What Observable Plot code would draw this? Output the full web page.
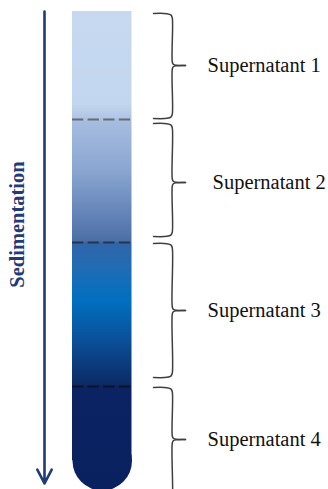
<!DOCTYPE html>
<html>
<head>
<meta charset="utf-8">
<script src="https://cdn.jsdelivr.net/npm/d3@7"></script>
<script src="https://cdn.jsdelivr.net/npm/@observablehq/plot@0.6"></script>
<style>
  html, body { margin: 0; padding: 0; background: #fff; overflow: hidden; }
  #chart svg { display: block; overflow: visible; }
</style>
</head>
<body>
<div id="chart"></div>
<script>
// ---- Data (diagram coordinates: depth 0..489 top to bottom, horizontal 0..328) ----
const layers = ["Supernatant 1", "Supernatant 2", "Supernatant 3", "Supernatant 4"];
const layerTop = [13, 123, 243, 387];
const layerBottom = [118, 236, 377, 505];
const layerMid = [65, 182, 310, 439];
const labelX = [207, 212, 207, 207];
const boundaries = [119, 242, 386];
const boundaryColors = ["#666b73", "#243650", "#0c1424"];
const tubeTop = 11;
const tubeBottom = 490;
const tubeLeft = 72;
const tubeRight = 131.5;
const gradDepth = [11, 104, 118, 121, 170, 215, 241, 243, 265, 300, 340, 384, 387, 490];
const gradColor = ["#c6d9f1", "#c3d6ef", "#b0c5e5", "#a6bde0", "#8aa6d0", "#6383b8", "#4b6fa5",
                   "#2f66a9", "#236bb3", "#0070c0", "#0a5099", "#0c2b66", "#0a2362", "#0a2160"];
const arrowX = 44;
const arrowTop = 11;
const arrowBottom = 483;
const axisTitle = "Sedimentation";

// ---- Build brace geometry from the layer spans ----
const braceLeft = 153, braceSpine = 171.8, braceTip = 185;
const bracePts = [];
layers.forEach((name, i) => {
  const t = layerTop[i], b = layerBottom[i], m = layerMid[i];
  const up = [[braceLeft, t], [166.5, t + 0.2], [170.6, t + 1.6], [braceSpine, t + 4.5],
              [braceSpine, m - 3.5], [172.8, m - 1.2], [176, m - 0.2], [braceTip, m]];
  const dn = [[braceLeft, b], [166.5, b - 0.2], [170.6, b - 1.6], [braceSpine, b - 4.5],
              [braceSpine, m + 3.5], [172.8, m + 1.2], [176, m + 0.2], [braceTip, m]];
  up.forEach(([x, y]) => bracePts.push({key: name + "u", x, y}));
  dn.forEach(([x, y]) => bracePts.push({key: name + "d", x, y}));
});

const labelData = layers.map((name, i) => ({name, x: labelX[i], y: layerMid[i]}));
const cx = (tubeLeft + tubeRight) / 2;
const rad = (tubeRight - tubeLeft) / 2;

const chart = Plot.plot({
  width: 328,
  height: 489,
  margin: 0,
  x: {domain: [0, 328], axis: null},
  y: {domain: [0, 489], range: [0, 489], axis: null},
  style: {background: "#fff"},
  marks: [
    // tube body
    Plot.rect([0], {x1: tubeLeft, x2: tubeRight, y1: tubeTop, y2: tubeBottom - rad, fill: "url(#tubeGrad)"}),
    // rounded bottom
    Plot.dot([0], {x: cx, y: tubeBottom - rad, r: rad, fill: "url(#tubeGrad)", stroke: null}),
    // layer boundaries
    Plot.ruleY(boundaries, {x1: tubeLeft, x2: tubeRight, y: d => d,
      stroke: (d, i) => boundaryColors[i], strokeWidth: 2.2, strokeDasharray: "11.3,4.3"}),
    // braces
    Plot.line(bracePts, {x: "x", y: "y", z: "key", curve: "catmull-rom",
      stroke: "#3f3f3f", strokeWidth: 1.5}),
    // labels
    Plot.text(labelData, {x: "x", y: "y", text: "name", textAnchor: "start",
      fontFamily: "Liberation Serif", fontSize: 20.5, fill: "#111"}),
    // sedimentation arrow
    Plot.arrow([0], {x1: arrowX, x2: arrowX, y1: arrowTop, y2: arrowBottom,
      stroke: "#1f3b78", strokeWidth: 2.6, headAngle: 55, headLength: 9}),
    Plot.text([axisTitle], {x: 17, y: 224, text: d => d, rotate: -90,
      fontFamily: "Liberation Serif", fontWeight: "bold", fontSize: 20.5, fill: "#1f3b78"})
  ]
});

// gradient definition following the depth scale
const ys = chart.scale("y");
const y0 = ys.apply(gradDepth[0]);
const y1 = ys.apply(gradDepth[gradDepth.length - 1]);
const defs = d3.create("svg:defs");
const grad = defs.append("linearGradient")
  .attr("id", "tubeGrad")
  .attr("gradientUnits", "userSpaceOnUse")
  .attr("x1", 0).attr("x2", 0).attr("y1", y0).attr("y2", y1);
gradDepth.forEach((v, i) => {
  grad.append("stop")
    .attr("offset", (ys.apply(v) - y0) / (y1 - y0))
    .attr("stop-color", gradColor[i]);
});
chart.insertBefore(defs.node(), chart.firstChild);
document.getElementById("chart").append(chart);
</script>
</body>
</html>
